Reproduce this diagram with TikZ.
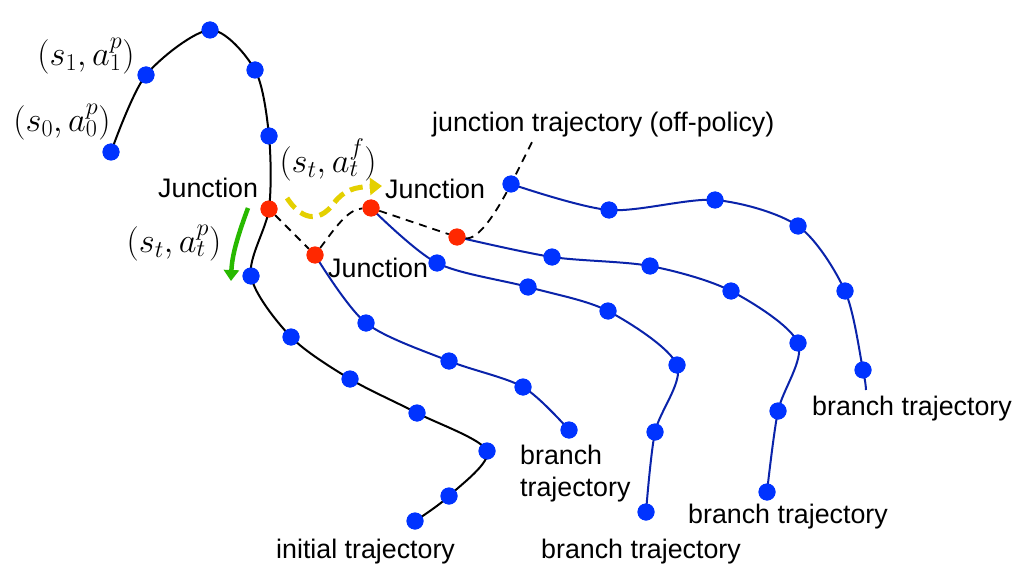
\RequirePackage{fix-cm}
\documentclass[tikz,border=0pt]{standalone}
\usepackage{fontspec}
\setmainfont{Liberation Sans}
\usetikzlibrary{arrows.meta}
\definecolor{dotblue}{RGB}{0,51,255}
\definecolor{lineblue}{RGB}{10,35,170}
\definecolor{dotred}{RGB}{255,40,0}
\definecolor{arrgreen}{RGB}{40,185,0}
\definecolor{arryellow}{RGB}{228,208,0}
\begin{document}
\begin{tikzpicture}[x=1pt,y=-1pt,
  bdot/.style={circle,fill=dotblue,inner sep=0pt,minimum size=17pt},
  rdot/.style={circle,fill=dotred,inner sep=0pt,minimum size=17pt},
  traj/.style={line width=2pt,black},
  btraj/.style={line width=2pt,lineblue},
  jdash/.style={line width=1.8pt,black,dash pattern=on 8pt off 6pt},
  lbl/.style={font=\fontsize{26.8}{32}\selectfont,inner sep=0pt,anchor=base west},
  mlbl/.style={font=\fontsize{34.5}{40}\selectfont,inner sep=0pt}]
\useasboundingbox (0,0) rectangle (1022,580);

% initial trajectory dots
\node[bdot] (i0) at (111,152) {};
\node[bdot] (i1) at (146,75) {};
\node[bdot] (i2) at (210,30) {};
\node[bdot] (i3) at (255,70) {};
\node[bdot] (i4) at (269,136) {};
\node[rdot] (J1) at (269,209) {};
\node[bdot] (i5) at (251,276) {};
\node[bdot] (i6) at (291,337) {};
\node[bdot] (i7) at (350,379) {};
\node[bdot] (i8) at (417,413) {};
\node[bdot] (i9) at (487,451) {};
\node[bdot] (i10) at (449,496) {};
\node[bdot] (i11) at (415,521) {};
% branch 1
\node[rdot] (J2) at (315,255) {};
\node[bdot] (b1a) at (366,323) {};
\node[bdot] (b1b) at (449,361) {};
\node[bdot] (b1c) at (523,387) {};
\node[bdot] (b1d) at (569,430) {};
% branch 2
\node[rdot] (J3) at (371,208) {};
\node[bdot] (b2a) at (437,263) {};
\node[bdot] (b2b) at (528,287) {};
\node[bdot] (b2c) at (608,311) {};
\node[bdot] (b2d) at (677,365) {};
\node[bdot] (b2e) at (655,432) {};
\node[bdot] (b2f) at (646,512) {};
% branch 3
\node[rdot] (J4) at (457,237) {};
\node[bdot] (b3a) at (552,257) {};
\node[bdot] (b3b) at (650,266) {};
\node[bdot] (b3c) at (731,291) {};
\node[bdot] (b3d) at (798,343) {};
\node[bdot] (b3e) at (778,411) {};
\node[bdot] (b3f) at (767,492) {};
% branch 4
\node[bdot] (b4a) at (511,184) {};
\node[bdot] (b4b) at (609,210) {};
\node[bdot] (b4c) at (715,200) {};
\node[bdot] (b4d) at (798,226) {};
\node[bdot] (b4e) at (845,291) {};
\node[bdot] (b4f) at (863,370) {};
\coordinate (b4end) at (866,390);
\coordinate (jend) at (533,140);

% curves
\draw[traj] plot[smooth] coordinates {(i0.center) (i1.center) (i2.center) (i3.center) (i4.center) (J1.center) (i5.center) (i6.center) (i7.center) (i8.center) (i9.center) (i10.center) (i11.center)};
\draw[btraj] plot[smooth] coordinates {(J2.center) (b1a.center) (b1b.center) (b1c.center) (b1d.center)};
\draw[btraj] plot[smooth] coordinates {(J3.center) (b2a.center) (b2b.center) (b2c.center) (b2d.center) (b2e.center) (b2f.center)};
\draw[btraj] plot[smooth] coordinates {(J4.center) (b3a.center) (b3b.center) (b3c.center) (b3d.center) (b3e.center) (b3f.center)};
\draw[btraj] plot[smooth] coordinates {(b4a.center) (b4b.center) (b4c.center) (b4d.center) (b4e.center) (b4f.center) (b4end)};

% junction trajectory (dashed)
\draw[jdash] (J1) -- (J2) .. controls (335,228) and (348,209) .. (J3) -- (J4)
  .. controls (478,240) and (495,215) .. (b4a.center) -- (jend);

% redraw dots on top
\foreach \n/\s in {i0/bdot,i1/bdot,i2/bdot,i3/bdot,i4/bdot,J1/rdot,i5/bdot,i6/bdot,i7/bdot,i8/bdot,i9/bdot,i10/bdot,i11/bdot,
  J2/rdot,b1a/bdot,b1b/bdot,b1c/bdot,b1d/bdot,J3/rdot,b2a/bdot,b2b/bdot,b2c/bdot,b2d/bdot,b2e/bdot,b2f/bdot,
  J4/rdot,b3a/bdot,b3b/bdot,b3c/bdot,b3d/bdot,b3e/bdot,b3f/bdot,b4a/bdot,b4b/bdot,b4c/bdot,b4d/bdot,b4e/bdot,b4f/bdot}
  \node[\s] (t\n) at (\n.center) {};

% arrows
\coordinate (gs) at (248,208);
\coordinate (ge) at (231,281);
\draw[arrgreen,line width=4.5pt,-{Triangle[width=15pt,length=11pt]}] (gs) .. controls (238,235) and (232,255) .. (ge);
\coordinate (ys) at (287,198);
\coordinate (ye) at (382,186);
\draw[arryellow,line width=5pt,dash pattern=on 13pt off 7pt,-{Triangle[width=17pt,length=12pt]}]
  (ys) .. controls (300,218) and (318,225) .. (334,203) .. controls (344,190) and (355,187) .. (ye);

% labels
\node[mlbl] (m1) at (86,56) {$(s_1,a_1^p)$};
\node[mlbl] (m0) at (62,122) {$(s_0,a_0^p)$};
\node[mlbl] (mf) at (328,160) {$(s_t,a_t^f)$};
\node[mlbl] (mp) at (174,243) {$(s_t,a_t^p)$};
\node[lbl] (lj1) at (158,197) {Junction};
\node[lbl] (lj3) at (385,198) {Junction};
\node[lbl] (lj2) at (328,277) {Junction};
\node[lbl] (ljt) at (432,132) {junction trajectory (off-policy)};
\node[lbl] (lini) at (276,558) {initial trajectory};
\node[lbl,align=left] (lb1) at (520,496) {branch\\trajectory};
\node[lbl] (lb2) at (541,558) {branch trajectory};
\node[lbl] (lb3) at (688,523) {branch trajectory};
\node[lbl] (lb4) at (812,415) {branch trajectory};
\end{tikzpicture}
\end{document}
